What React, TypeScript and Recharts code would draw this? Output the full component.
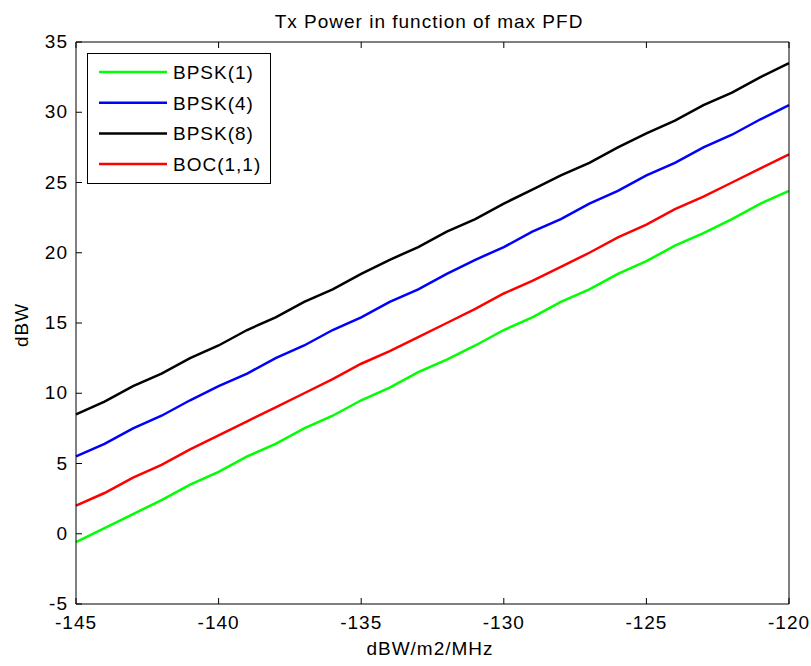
import { LineChart, Line, XAxis, YAxis } from "recharts";

// x axis: max PFD (dBW/m2/MHz)
const pfd = [
  -145, -144, -143, -142, -141, -140, -139, -138, -137, -136, -135, -134, -133,
  -132, -131, -130, -129, -128, -127, -126, -125, -124, -123, -122, -121, -120,
];

const bpsk1 = [
  -0.6, 0.4, 1.4, 2.4, 3.5, 4.4, 5.5, 6.4, 7.5, 8.4, 9.5, 10.4, 11.5, 12.4,
  13.4, 14.5, 15.4, 16.5, 17.4, 18.5, 19.4, 20.5, 21.4, 22.4, 23.5, 24.4,
];
const bpsk4 = [
  5.5, 6.4, 7.5, 8.4, 9.5, 10.5, 11.4, 12.5, 13.4, 14.5, 15.4, 16.5, 17.4, 18.5,
  19.5, 20.4, 21.5, 22.4, 23.5, 24.4, 25.5, 26.4, 27.5, 28.4, 29.5, 30.5,
];
const bpsk8 = [
  8.5, 9.4, 10.5, 11.4, 12.5, 13.4, 14.5, 15.4, 16.5, 17.4, 18.5, 19.5, 20.4,
  21.5, 22.4, 23.5, 24.5, 25.5, 26.4, 27.5, 28.5, 29.4, 30.5, 31.4, 32.5, 33.5,
];
const boc11 = [
  2.0, 2.9, 4.0, 4.9, 6.0, 7.0, 8.0, 9.0, 10.0, 11.0, 12.1, 13.0, 14.0, 15.0,
  16.0, 17.1, 18.0, 19.0, 20.0, 21.1, 22.0, 23.1, 24.0, 25.0, 26.0, 27.0,
];

const xTicks = [-145, -140, -135, -130, -125, -120];
const yTicks = [-5, 0, 5, 10, 15, 20, 25, 30, 35];

const series = [
  { key: "bpsk1", name: "BPSK(1)", color: "#00ff00" },
  { key: "bpsk4", name: "BPSK(4)", color: "#0000ff" },
  { key: "bpsk8", name: "BPSK(8)", color: "#000000" },
  { key: "boc11", name: "BOC(1,1)", color: "#ff0000" },
];

const data = pfd.map((x, i) => ({
  x,
  bpsk1: bpsk1[i],
  bpsk4: bpsk4[i],
  bpsk8: bpsk8[i],
  boc11: boc11[i],
}));

const FONT = "'Liberation Sans', Arial, sans-serif";
const FS = 19;
const LS = 1;
const TICK_LEN = 6;

const txt = {
  fontSize: FS,
  fontFamily: FONT,
  fill: "#000",
  letterSpacing: LS,
};

// MATLAB-style ticks point into the plot area
const BottomTick = ({ x, y, payload }: any) => (
  <g>
    <line x1={x} y1={y} x2={x} y2={y - TICK_LEN} stroke="#000" />
    <text x={x} y={y + 25} textAnchor="middle" {...txt}>
      {payload.value}
    </text>
  </g>
);
const TopTick = ({ x, y }: any) => (
  <line x1={x} y1={y} x2={x} y2={y + TICK_LEN} stroke="#000" />
);
const LeftTick = ({ x, y, payload }: any) => (
  <g>
    <line x1={x} y1={y} x2={x + TICK_LEN} y2={y} stroke="#000" />
    <text x={x - 8} y={y + 6} textAnchor="end" {...txt}>
      {payload.value}
    </text>
  </g>
);
const RightTick = ({ x, y }: any) => (
  <line x1={x} y1={y} x2={x - TICK_LEN} y2={y} stroke="#000" />
);

export default function App() {
  return (
    <div style={{ position: "absolute", left: 0, top: 0, width: 811, height: 666, background: "#fff" }}>
      <LineChart
        width={811}
        height={666}
        data={data}
        margin={{ top: 41, right: 21, bottom: 61, left: 0 }}
      >
        <XAxis
          dataKey="x"
          type="number"
          domain={[-145, -120]}
          ticks={xTicks}
          tick={<BottomTick />}
          tickLine={false}
          tickSize={0}
          tickMargin={0}
          axisLine={{ stroke: "#000" }}
          height={1}
        />
        <XAxis
          xAxisId="top"
          orientation="top"
          dataKey="x"
          type="number"
          domain={[-145, -120]}
          ticks={xTicks}
          tick={<TopTick />}
          tickLine={false}
          tickSize={0}
          tickMargin={0}
          axisLine={{ stroke: "#000" }}
          height={1}
        />
        <YAxis
          type="number"
          domain={[-5, 35]}
          ticks={yTicks}
          tick={<LeftTick />}
          tickLine={false}
          tickSize={0}
          tickMargin={0}
          axisLine={{ stroke: "#000" }}
          width={76}
        />
        <YAxis
          yAxisId="right"
          orientation="right"
          type="number"
          domain={[-5, 35]}
          ticks={yTicks}
          tick={<RightTick />}
          tickLine={false}
          tickSize={0}
          tickMargin={0}
          axisLine={{ stroke: "#000" }}
          width={1}
        />
        {series.map((s) => (
          <Line
            key={s.key}
            dataKey={s.key}
            name={s.name}
            stroke={s.color}
            strokeWidth={2.5}
            dot={false}
            type="linear"
            isAnimationActive={false}
          />
        ))}
        <g>
          <rect x={87.5} y={53.5} width={183} height={130} fill="#fff" stroke="#000" />
          {series.map((s, i) => (
            <g key={s.key}>
              <line x1={99} x2={167} y1={72 + i * 30.7} y2={72 + i * 30.7} stroke={s.color} strokeWidth={2.5} />
              <text x={173} y={72 + i * 30.7 + 7} {...txt}>
                {s.name}
              </text>
            </g>
          ))}
        </g>
        <text x={429} y={28} textAnchor="middle" {...txt}>
          Tx Power in function of max PFD
        </text>
        <text x={430} y={655} textAnchor="middle" {...txt}>
          dBW/m2/MHz
        </text>
        <text x={28} y={325} textAnchor="middle" {...txt} transform="rotate(-90 28 325)">
          dBW
        </text>
      </LineChart>
    </div>
  );
}
